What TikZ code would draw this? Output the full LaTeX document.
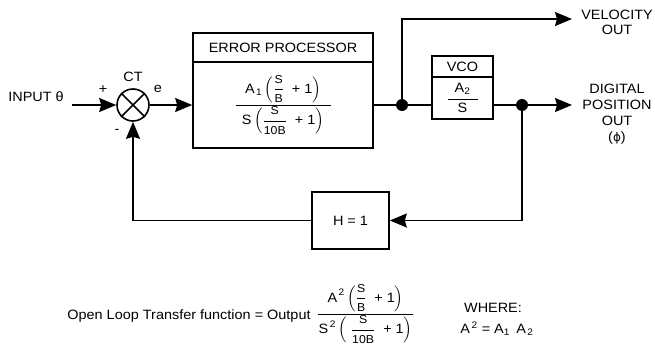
\documentclass[tikz,border=0pt]{standalone}
\usepackage{amsmath}
\usepackage{fontspec}
\setmainfont{Liberation Sans}[FakeStretch=1.07]
\newfontfamily\djv{DejaVu Sans}
\usetikzlibrary{arrows.meta}
\newcommand{\tx}[1]{\text{#1}}
\newcommand{\sm}[1]{\text{\fontsize{11.5}{12}\selectfont #1}}
\newcommand{\wbar}[1]{\makebox[95pt]{$\displaystyle #1$}}
\begin{document}
\begin{tikzpicture}[x=1pt,y=-1pt,font=\fontsize{13.5}{15}\selectfont,
  wire/.style={line width=1.6pt},
  arr/.style={wire,-{Stealth[length=17pt,width=14pt,inset=2pt]}},
  blk/.style={draw,line width=1.6pt,inner sep=0pt},
  dotn/.style={circle,fill,inner sep=0pt,minimum size=12pt},
  lbl/.style={inner sep=0pt,align=center}]
\useasboundingbox (0,0) rectangle (655,350);

% labels
\node[lbl] (inlbl) at (36,97) {INPUT θ};
\node[lbl] (ct) at (133,77) {CT};
\node[lbl] (plus) at (103,90) {+};
\node[lbl] (elbl) at (158,89) {e};
\node[lbl] (minus) at (117,131) {-};

% summing junction
\node[draw,circle,line width=1.6pt,minimum size=32pt,inner sep=0pt] (sum) at (133,105) {};
\draw[wire] (sum.north east) -- (sum.south west) (sum.north west) -- (sum.south east);

% error processor
\node[blk,minimum width=180pt,minimum height=29pt] (epH) at (283,47.5) {ERROR PROCESSOR};
\node[blk,minimum width=180pt,minimum height=86pt] (epB) at (283,105)
  {$\dfrac{\tx{A}_{\,\tx{1}}\left(\dfrac{\sm{S}}{\sm{B}}\;\tx{ + 1}\right)}{\wbar{\tx{S}\left(\dfrac{\sm{S}}{\sm{10B}}\;\tx{ + 1}\right)}}$};

% VCO
\node[blk,minimum width=61pt,minimum height=21pt] (vcoH) at (462.5,66.5) {VCO};
\node[blk,minimum width=61pt,minimum height=42pt] (vcoB) at (462.5,98)
  {$\dfrac{\makebox[30pt]{$\tx{A}_{\tx{2}}$}}{\tx{S}}$};

% H block
\node[blk,minimum width=77pt,minimum height=57pt] (hb) at (350.5,220.5) {H = 1};

% dots and free ends
\node[dotn] (d1) at (402,105) {};
\node[dotn] (d2) at (522,105) {};
\coordinate (instart) at (72,105);
\coordinate (vtip) at (572,19);
\coordinate (ptip) at (572,105);

% connectors
\draw[arr] (instart) -- (sum.west);
\draw[arr] (sum.east) -- (epB.west);
\draw[wire] (epB.east |- d1) -- (d1.center);
\draw[wire] (d1.center) -- (vcoB.west |- d1);
\draw[wire] (vcoB.east |- d2) -- (d2.center);
\draw[arr] (d2.center) -- (ptip);
\draw[arr] (d1.center) |- (vtip);
\draw[arr] (d2.center) |- (hb.east);
\draw[arr] (hb.west) -| (sum.south);

% output labels
\node[lbl] (vel) at (617,22.5) {VELOCITY\\[0pt]OUT};
\node[lbl] (pos) at (617,114.5) {DIGITAL\\[1pt]POSITION\\[1pt]OUT\\[1pt]({\djv\fontsize{12}{14}\selectfont ϕ})};

% bottom formula
\node[lbl] (ol) at (189,316) {Open Loop Transfer function = Output};
\node[lbl] (olf) at (365.5,314)
  {$\dfrac{\tx{A}^{\,\tx{2}}\left(\dfrac{\sm{S}}{\sm{B}}\;\tx{ + 1}\right)}{\wbar{\tx{S}^{\,\tx{2}}\left(\;\dfrac{\sm{S}}{\sm{10B}}\;\tx{ + 1}\right)}}$};
\node[lbl] (where) at (493,308) {WHERE:};
\node[lbl] (aeq) at (497,329) {A$^{\,\text{2}}$ = A$_{\text{1}}$ \,A$_{\,\text{2}}$};
\end{tikzpicture}
\end{document}
